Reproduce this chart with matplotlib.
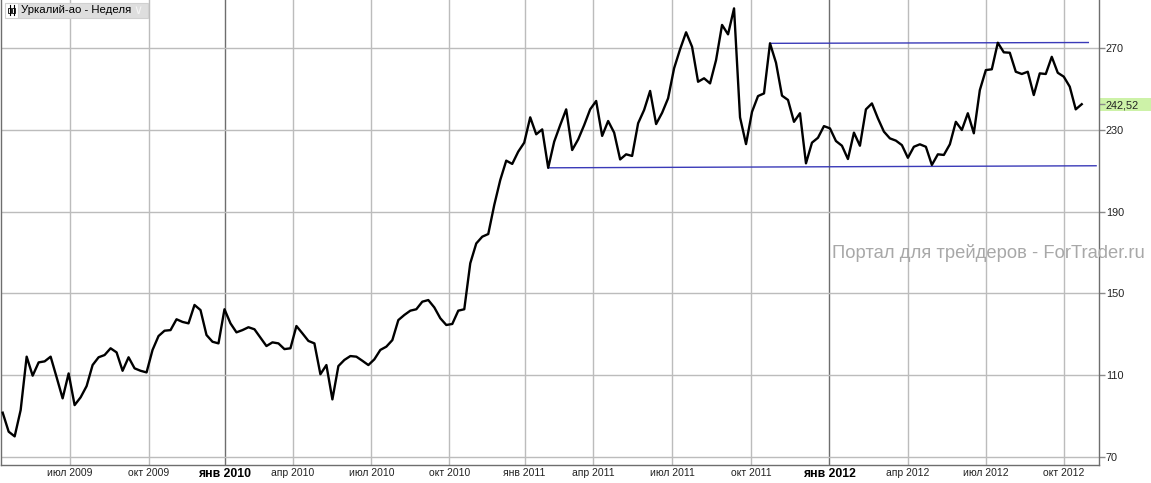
#!/usr/bin/env python3
"""
Уркалий-ао, недельный график с каналом
"""
import numpy as np
import matplotlib
matplotlib.use('Agg')
import matplotlib.pyplot as plt
import matplotlib.transforms as mtransforms
from matplotlib.patches import Rectangle

plt.rcParams['font.family'] = ['Liberation Sans', 'DejaVu Sans']

# недельные закрытия (апр 2009 - окт 2012)
price = [
    91.6, 82.3, 80.0, 92.9, 119.0, 109.7, 116.2, 116.7, 119.0, 108.9,
    98.6, 110.8, 95.3, 99.1, 104.6, 114.9, 118.7, 119.8, 123.1, 121.1,
    112.1, 118.7, 113.3, 112.1, 111.3, 122.3, 129.1, 131.7, 132.0, 137.3,
    136.0, 135.3, 144.3, 141.8, 129.6, 126.3, 125.5, 142.2, 135.3, 130.9,
    132.0, 133.4,
    132.4, 128.3, 124.2, 126.0, 125.5, 122.7, 123.1, 134.0, 130.4, 126.7,
    125.5, 110.4, 114.9, 98.1, 114.4, 117.4, 119.3, 119.0, 117.0, 114.9,
    117.7, 122.3, 123.9, 127.1, 136.9, 139.4, 141.5, 142.2, 145.9, 146.7,
    143.1, 137.8, 134.5, 135.0, 141.5, 142.2, 164.7, 174.4, 177.7, 179.0,
    193.2, 205.4, 214.9, 213.3, 219.3, 223.7, 236.1, 227.8, 230.2, 211.4,
    224.2, 232.3, 240.0, 220.1, 225.3, 232.3, 240.0, 244.1, 227.0, 234.3,
    228.6, 215.5, 218.0, 217.2, 233.2, 239.7, 249.0, 232.8, 238.3, 245.4,
    260.1, 269.4, 277.7, 270.6, 253.5, 255.2, 252.7, 264.1, 281.3, 276.7,
    289.4, 236.1, 223.0, 238.8, 246.5, 247.8, 272.3, 262.8, 246.7, 244.6,
    233.9, 238.1,
    213.6, 223.7, 226.1, 231.8, 230.7, 224.5, 222.2, 215.7, 228.6, 222.2,
    240.0, 242.9, 235.6, 229.1, 225.8, 224.7, 222.5, 216.3, 221.7, 222.9,
    221.7, 212.8, 218.0, 217.7, 222.9, 233.9, 229.9, 238.1, 228.3, 249.4,
    259.2, 259.6, 272.6, 267.9, 267.7, 258.4, 257.3, 258.4, 247.0, 257.6,
    257.3, 265.7, 257.9, 256.0, 251.1, 240.0, 242.52,
]

# линии канала: индекс бара -> цена
support_x = [91, 182.4]
support_y = [211.4, 212.4]
resist_x = [128, 181.1]
resist_y = [272.3, 272.7]

y_ticks = [70, 110, 150, 190, 230, 270]
x_tick_pos = [11.2, 24.4, 37.05, 48.4, 61.5, 74.5, 87.05, 98.5, 111.7,
              124.9, 137.9, 151.05, 164.05, 177.05]
x_tick_labels = ['июл 2009', 'окт 2009', 'янв 2010', 'апр 2010', 'июл 2010',
                 'окт 2010', 'янв 2011', 'апр 2011', 'июл 2011', 'окт 2011',
                 'янв 2012', 'апр 2012', 'июл 2012', 'окт 2012']
bold_labels = ['янв 2010', 'янв 2012']

last_price = price[-1]
last_label = '242,52'

light = '#bcbcbc'
dark = '#6e6e6e'

fig = plt.figure(figsize=(11.51, 4.83), dpi=100)
ax = fig.add_axes([1 / 1151, 18 / 483, 1098 / 1151, 465 / 483])

# сетка
for p, lab in zip(x_tick_pos, x_tick_labels):
    ax.axvline(p, color=dark if lab in bold_labels else light, lw=1, zorder=0)
for v in y_ticks:
    ax.axhline(v, color=light, lw=1, zorder=0)

x = np.arange(len(price))
ax.plot(x, price, color='black', lw=1.7, zorder=3)
ax.plot(support_x, support_y, color='#3a3ab8', lw=1, zorder=2)
ax.plot(resist_x, resist_y, color='#3a3ab8', lw=1, zorder=2)

ax.set_xlim(-0.28, 182.88)
ax.set_ylim(66.0, 293.5)

ax.spines['top'].set_visible(False)
for side in ['left', 'right', 'bottom']:
    ax.spines[side].set_color(dark)
    ax.spines[side].set_linewidth(1)

ax.set_xticks(x_tick_pos)
ax.set_xticklabels(x_tick_labels)
ax.tick_params(axis='x', length=0, pad=2.5, labelsize=7.5, colors='#222222')
for t in ax.get_xticklabels():
    if t.get_text() in bold_labels:
        t.set_fontweight('bold')
        t.set_fontsize(8.8)
        t.set_color('black')

ax.yaxis.tick_right()
ax.set_yticks(y_ticks)
ax.set_yticks([last_price], labels=[last_label], minor=True)
ax.tick_params(axis='y', which='both', length=4, width=1, color='#8a8a8a',
               pad=1, labelsize=7.8, labelcolor='#222222')

# плашка последней цены
trans = mtransforms.blended_transform_factory(ax.transAxes, ax.transData)
ax.add_patch(Rectangle((1.0006, last_price - 3.2), 0.05, 6.2, transform=trans,
                       facecolor='#cdf2a8', edgecolor='none', clip_on=False,
                       zorder=0))

# заголовок инструмента
fig.patches.append(Rectangle((18 / 1151, 1 - 17.5 / 483), 130 / 1151, 15 / 483,
                             transform=fig.transFigure, facecolor='#dedede',
                             edgecolor='#d0d0d0', lw=0.8))
fig.patches.append(Rectangle((5 / 1151, 1 - 17.5 / 483), 13 / 1151, 15 / 483,
                             transform=fig.transFigure, facecolor='white',
                             edgecolor='#d0d0d0', lw=0.8))
for cx in [9.5, 13.5]:
    fig.add_artist(plt.Line2D([cx / 1151, cx / 1151], [1 - 15 / 483, 1 - 5 / 483],
                              transform=fig.transFigure, color='black', lw=0.8))
    fig.patches.append(Rectangle(((cx - 1.3) / 1151, 1 - 12.5 / 483), 2.6 / 1151,
                                 5 / 483, transform=fig.transFigure,
                                 facecolor='white', edgecolor='black', lw=0.6))
fig.text(21 / 1151, 1 - 10 / 483, 'Уркалий-ао - Неделя', ha='left', va='center',
         fontsize=8.2, color='black')
fig.text(138 / 1151, 1 - 10 / 483, '∨', ha='center', va='center',
         fontsize=9, color='#f4f4f4', family=['DejaVu Sans'])

# водяной знак
fig.text(1145 / 1151, 1 - 252.5 / 483, 'Портал для трейдеров - ForTrader.ru',
         ha='right', va='center', fontsize=13.2, color='#a8a8a8')

plt.savefig('out.png', dpi=100)
